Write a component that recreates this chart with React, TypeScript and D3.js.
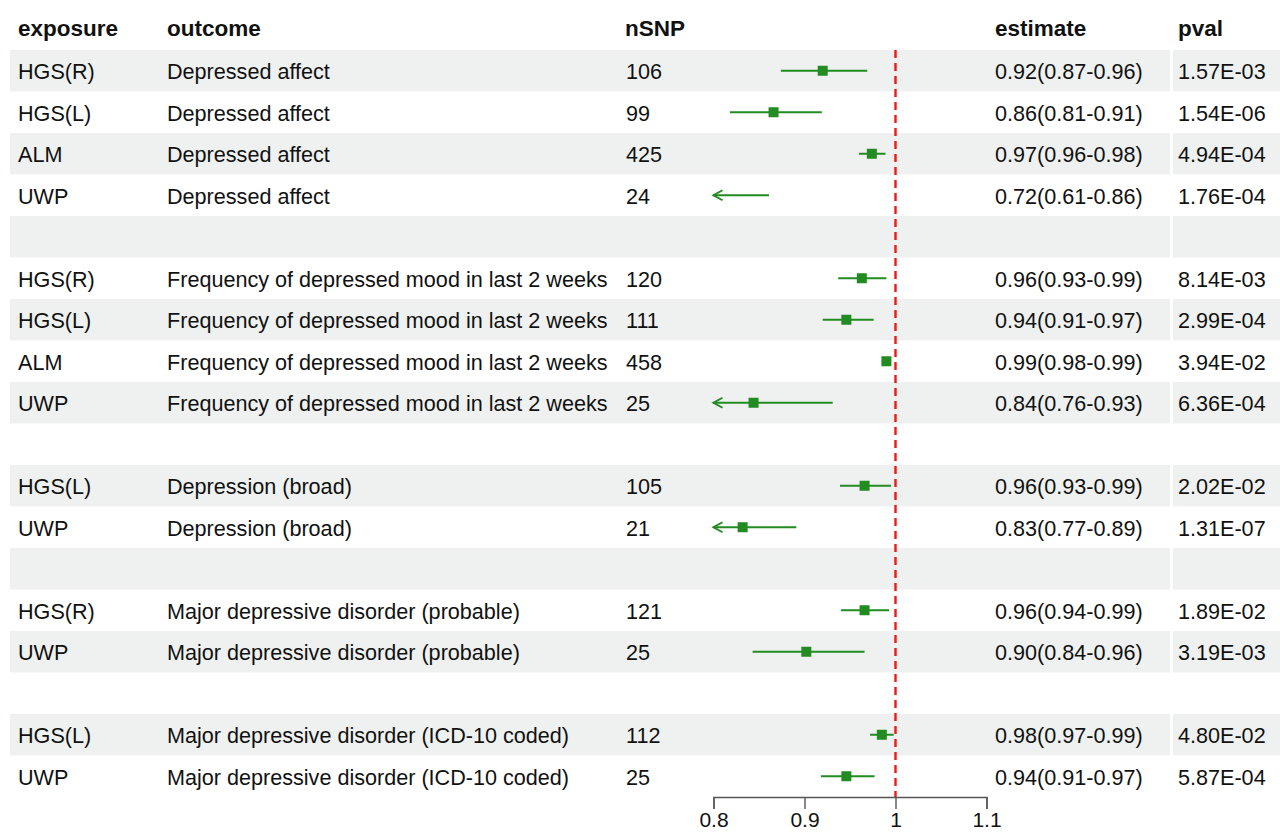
import { useEffect, useRef } from "react";
import * as d3 from "d3";

const exposures = [
  "HGS(R)", "HGS(L)", "ALM", "UWP", "",
  "HGS(R)", "HGS(L)", "ALM", "UWP", "",
  "HGS(L)", "UWP", "",
  "HGS(R)", "UWP", "",
  "HGS(L)", "UWP",
];
const freq = "Frequency of depressed mood in last 2 weeks";
const outcomes = [
  "Depressed affect", "Depressed affect", "Depressed affect", "Depressed affect", "",
  freq, freq, freq, freq, "",
  "Depression (broad)", "Depression (broad)", "",
  "Major depressive disorder (probable)", "Major depressive disorder (probable)", "",
  "Major depressive disorder (ICD-10 coded)", "Major depressive disorder (ICD-10 coded)",
];
const nSNP = ["106", "99", "425", "24", "", "120", "111", "458", "25", "", "105", "21", "", "121", "25", "", "112", "25"];
const estimateLabels = [
  "0.92(0.87-0.96)", "0.86(0.81-0.91)", "0.97(0.96-0.98)", "0.72(0.61-0.86)", "",
  "0.96(0.93-0.99)", "0.94(0.91-0.97)", "0.99(0.98-0.99)", "0.84(0.76-0.93)", "",
  "0.96(0.93-0.99)", "0.83(0.77-0.89)", "",
  "0.96(0.94-0.99)", "0.90(0.84-0.96)", "",
  "0.98(0.97-0.99)", "0.94(0.91-0.97)",
];
const pvals = [
  "1.57E-03", "1.54E-06", "4.94E-04", "1.76E-04", "",
  "8.14E-03", "2.99E-04", "3.94E-02", "6.36E-04", "",
  "2.02E-02", "1.31E-07", "",
  "1.89E-02", "3.19E-03", "",
  "4.80E-02", "5.87E-04",
];
// point estimate and CI
const est = [0.92, 0.866, 0.974, 0.72, null, 0.963, 0.946, 0.99, 0.844, null, 0.966, 0.832, null, 0.966, 0.902, null, 0.985, 0.946];
const lower = [0.874, 0.818, 0.96, 0.61, null, 0.937, 0.92, 0.987, 0.76, null, 0.939, 0.77, null, 0.94, 0.843, null, 0.972, 0.918];
const upper = [0.969, 0.919, 0.989, 0.861, null, 0.99, 0.976, 0.995, 0.931, null, 0.995, 0.891, null, 0.993, 0.966, null, 0.998, 0.977];
const xTicks = [0.8, 0.9, 1, 1.1];

const headers = ["exposure", "outcome", "nSNP", "estimate", "pval"];

export default function App() {
  const ref = useRef<HTMLDivElement>(null);

  useEffect(() => {
    document.body.style.margin = "0";
    const width = 1280;
    const height = 834;
    const green = "#228b22";
    const font = "'Liberation Sans', Arial, sans-serif";

    d3.select(ref.current).select("svg").remove();
    const svg = d3
      .select(ref.current)
      .append("svg")
      .attr("width", width)
      .attr("height", height)
      .style("display", "block")
      .style("font-family", font);

    svg.append("rect").attr("width", width).attr("height", height).attr("fill", "#fff");

    const rows = d3
      .scaleBand<number>()
      .domain(d3.range(exposures.length))
      .range([50, 797]);
    const x = d3.scaleLinear().domain([0.8, 1.1]).range([713.5, 986.5]);

    const colX = [18, 167, 625, 995, 1178];

    // row backgrounds (gap between estimate and pval columns)
    const bands = svg.append("g");
    rows.domain().forEach((i) => {
      if (i % 2 !== 0) return;
      bands.append("rect")
        .attr("x", 10).attr("y", rows(i)!)
        .attr("width", 1160).attr("height", rows.bandwidth())
        .attr("fill", "#eff1f0");
      bands.append("rect")
        .attr("x", 1173).attr("y", rows(i)!)
        .attr("width", 107).attr("height", rows.bandwidth())
        .attr("fill", "#eff1f0");
    });

    // header
    svg.append("g")
      .selectAll("text")
      .data(headers)
      .enter()
      .append("text")
      .attr("x", (_, i) => colX[i])
      .attr("y", 28)
      .attr("dy", "0.35em")
      .style("font-size", "22.5px")
      .style("font-weight", "bold")
      .style("fill", "#111")
      .text((d) => d);

    // table cells
    const columns = [exposures, outcomes, nSNP, estimateLabels, pvals];
    columns.forEach((col, c) => {
      svg.append("g")
        .selectAll("text")
        .data(col)
        .enter()
        .append("text")
        .attr("x", colX[c] + (c === 2 ? 1 : 0))
        .attr("y", (_, i) => rows(i)! + rows.bandwidth() / 2 + 1)
        .attr("dy", "0.35em")
        .style("font-size", "21.6px")
        .style("fill", "#111")
        .text((d) => d);
    });

    // reference line at 1
    svg.append("line")
      .attr("x1", x(1)).attr("x2", x(1))
      .attr("y1", 50).attr("y2", 797)
      .attr("stroke", "#f01818")
      .attr("stroke-width", 2.4)
      .attr("stroke-dasharray", "8,5");

    // CI lines, arrows and points
    const [xmin, xmax] = x.domain();
    const g = svg.append("g");
    est.forEach((e, i) => {
      if (e === null) return;
      const cy = rows(i)! + rows.bandwidth() / 2;
      const lo = Math.max(lower[i] as number, xmin);
      const hi = Math.min(upper[i] as number, xmax);
      g.append("line")
        .attr("x1", x(lo)).attr("x2", x(hi))
        .attr("y1", cy).attr("y2", cy)
        .attr("stroke", green)
        .attr("stroke-width", 2);
      if ((lower[i] as number) < xmin) {
        g.append("path")
          .attr("d", `M${x(lo) + 9},${cy - 5}L${x(lo)},${cy}L${x(lo) + 9},${cy + 5}`)
          .attr("fill", "none")
          .attr("stroke", green)
          .attr("stroke-width", 2);
      }
      if (e >= xmin && e <= xmax) {
        g.append("rect")
          .attr("x", x(e) - 5).attr("y", cy - 5)
          .attr("width", 10).attr("height", 10)
          .attr("fill", green);
      }
    });

    // x axis
    const axis = svg.append("g")
      .attr("transform", "translate(0,797)")
      .call(d3.axisBottom(x).tickValues(xTicks).tickSize(12).tickPadding(3).tickFormat((d) => String(d)));
    axis.select(".domain").attr("stroke", "#555").attr("stroke-width", 1.4);
    axis.selectAll(".tick line").attr("stroke", "#555").attr("stroke-width", 1.4);
    axis.selectAll(".tick text")
      .style("font-size", "21px")
      .style("font-family", font)
      .style("fill", "#111");
  }, []);

  return <div ref={ref} />;
}
